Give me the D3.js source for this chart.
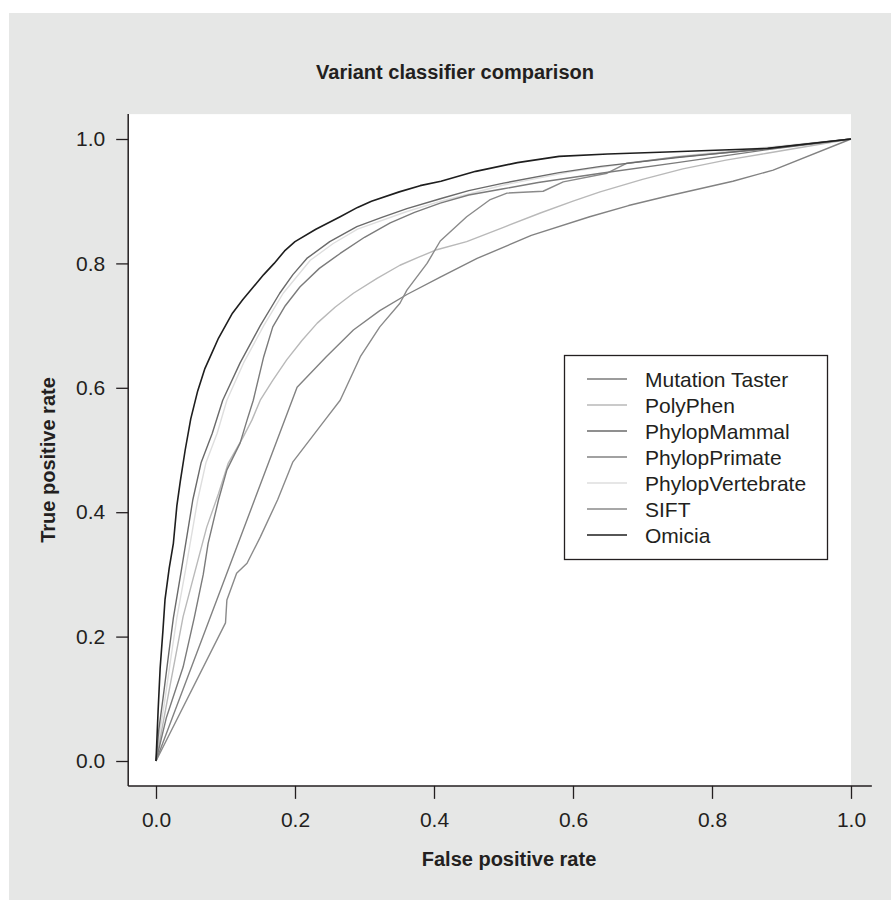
<!DOCTYPE html>
<html>
<head>
<meta charset="utf-8">
<script src="https://cdn.jsdelivr.net/npm/d3@7"></script>
<style>
  body { margin: 0; background: #fff; }
  text { font-family: "Liberation Sans", Arial, Helvetica, sans-serif; fill: #231f20; }
</style>
</head>
<body>
<div id="chart"></div>
<script>
// legend order
var seriesNames = ["Mutation Taster", "PolyPhen", "PhylopMammal", "PhylopPrimate", "PhylopVertebrate", "SIFT", "Omicia"];
var seriesColors = ["#7b7b7b", "#b9b9b9", "#6a6a6a", "#828282", "#dedede", "#8a8a8a", "#1e1e1e"];

var xTicks = [0, 0.2, 0.4, 0.6, 0.8, 1.0];
var yTicks = [0, 0.2, 0.4, 0.6, 0.8, 1.0];

// [false positive rate, true positive rate]
var mutationTaster = [[0,0],[0.015,0.07],[0.039,0.151],[0.055,0.23],[0.068,0.3],[0.075,0.35],[0.09,0.42],[0.102,0.468],
  [0.121,0.511],[0.131,0.548],[0.14,0.58],[0.155,0.65],[0.168,0.698],[0.186,0.732],[0.207,0.762],[0.235,0.792],[0.265,0.816],
  [0.3,0.842],[0.337,0.865],[0.372,0.882],[0.409,0.897],[0.45,0.91],[0.5,0.92],[0.55,0.93],[0.64,0.945],[0.75,0.962],[0.88,0.983],[1,1]];

var polyPhen = [[0,0],[0.02,0.12],[0.039,0.232],[0.055,0.3],[0.073,0.376],[0.09,0.43],[0.104,0.479],[0.125,0.52],
  [0.138,0.548],[0.15,0.58],[0.168,0.612],[0.188,0.645],[0.21,0.676],[0.232,0.704],[0.258,0.73],[0.284,0.752],[0.318,0.776],
  [0.351,0.797],[0.378,0.81],[0.404,0.822],[0.447,0.835],[0.5,0.858],[0.553,0.881],[0.6,0.9],[0.639,0.915],[0.7,0.935],
  [0.758,0.952],[0.82,0.966],[0.879,0.977],[1,1]];

var phylopMammal = [[0,0],[0.004,0.05],[0.01,0.1],[0.018,0.17],[0.025,0.23],[0.037,0.31],[0.053,0.42],[0.065,0.48],
  [0.081,0.527],[0.096,0.58],[0.121,0.64],[0.15,0.7],[0.178,0.752],[0.197,0.782],[0.217,0.808],[0.25,0.835],[0.289,0.859],
  [0.325,0.874],[0.361,0.888],[0.409,0.904],[0.45,0.917],[0.5,0.929],[0.58,0.946],[0.64,0.956],[0.75,0.97],[0.88,0.985],[1,1]];

var phylopPrimate = [[0,0],[0.203,0.601],[0.245,0.65],[0.284,0.693],[0.322,0.724],[0.361,0.75],[0.409,0.778],[0.462,0.808],
  [0.54,0.845],[0.624,0.875],[0.68,0.893],[0.735,0.908],[0.83,0.932],[0.888,0.95],[1,1]];

var phylopVertebrate = [[0,0],[0.006,0.05],[0.013,0.1],[0.022,0.17],[0.03,0.23],[0.043,0.31],[0.06,0.42],[0.072,0.48],
  [0.088,0.527],[0.102,0.58],[0.126,0.64],[0.155,0.7],[0.183,0.752],[0.222,0.805],[0.255,0.832],[0.29,0.855],[0.36,0.883],
  [0.41,0.9],[0.5,0.926],[0.6,0.948],[0.75,0.972],[0.88,0.987],[1,1]];

var sift = [[0,0],[0.1,0.222],[0.102,0.259],[0.116,0.302],[0.131,0.318],[0.15,0.36],[0.175,0.42],[0.197,0.481],[0.243,0.548],
  [0.265,0.58],[0.294,0.65],[0.322,0.698],[0.351,0.736],[0.361,0.757],[0.39,0.8],[0.409,0.836],[0.447,0.875],[0.48,0.902],
  [0.505,0.913],[0.557,0.916],[0.586,0.931],[0.649,0.945],[0.677,0.961],[0.75,0.971],[0.88,0.984],[1,1]];

var omicia = [[0,0],[0.003,0.08],[0.006,0.15],[0.01,0.21],[0.013,0.26],[0.019,0.31],[0.025,0.35],[0.03,0.41],[0.035,0.45],
  [0.042,0.5],[0.05,0.55],[0.06,0.595],[0.07,0.63],[0.08,0.655],[0.09,0.68],[0.1,0.7],[0.11,0.72],[0.125,0.742],[0.14,0.762],
  [0.155,0.782],[0.17,0.8],[0.185,0.82],[0.2,0.835],[0.23,0.855],[0.265,0.875],[0.29,0.89],[0.31,0.9],[0.35,0.915],
  [0.38,0.925],[0.41,0.932],[0.46,0.948],[0.52,0.962],[0.58,0.972],[0.65,0.976],[0.735,0.979],[0.88,0.985],[1,1]];

var seriesData = [mutationTaster, polyPhen, phylopMammal, phylopPrimate, phylopVertebrate, sift, omicia];
// draw order: light ones first so dark ones stay on top
var drawOrder = [4, 1, 3, 5, 0, 2, 6];

var W = 891, H = 900;
var svg = d3.select("#chart").append("svg").attr("width", W).attr("height", H);

svg.append("rect").attr("x", 9).attr("y", 13).attr("width", W - 9).attr("height", H - 13).attr("fill", "#e6e7e6");

var x = d3.scaleLinear().domain([0, 1]).range([156, 851]);
var y = d3.scaleLinear().domain([0, 1]).range([761, 139]);

// white panel
svg.append("rect")
  .attr("x", x(-0.04)).attr("y", y(1.04))
  .attr("width", x(1) - x(-0.04)).attr("height", y(-0.04) - y(1.04))
  .attr("fill", "#fff");

var line = d3.line().x(function(d){ return x(d[0]); }).y(function(d){ return y(d[1]); });

svg.append("g").selectAll("path")
  .data(drawOrder)
  .enter()
  .append("path")
  .attr("d", function(i){ return line(seriesData[i]); })
  .attr("fill", "none")
  .attr("stroke", function(i){ return seriesColors[i]; })
  .attr("stroke-width", function(i){ return i == 6 ? 1.6 : 1.4; })
  .attr("stroke-linejoin", "round");

// axes
var xAxis = d3.axisBottom(x).tickValues(xTicks).tickFormat(d3.format(".1f")).tickSize(13).tickSizeOuter(0);
var gx = svg.append("g").attr("transform", "translate(0," + y(-0.04) + ")").call(xAxis);
gx.select(".domain").attr("d", "M" + x(-0.04) + ",0H" + x(1.03));
var yAxis = d3.axisLeft(y).tickValues(yTicks).tickFormat(d3.format(".1f")).tickSize(12).tickSizeOuter(0);
var gy = svg.append("g").attr("transform", "translate(" + x(-0.04) + ",0)").call(yAxis);
gy.select(".domain").attr("d", "M0," + y(1.04) + "V" + y(-0.04));

svg.selectAll(".domain").attr("stroke", "#231f20").attr("stroke-width", 1.5);
svg.selectAll(".tick line").attr("stroke", "#231f20").attr("stroke-width", 1.3);
svg.selectAll(".tick text").attr("font-size", 21).attr("font-family", null).style("fill", "#231f20");
gx.selectAll(".tick text").attr("y", 26);
gy.selectAll(".tick text").attr("x", -23);

// titles
svg.append("text").attr("x", 455).attr("y", 79).attr("text-anchor", "middle")
  .attr("font-size", 20).attr("font-weight", "bold").text("Variant classifier comparison");
svg.append("text").attr("x", 509).attr("y", 866).attr("text-anchor", "middle")
  .attr("font-size", 20).attr("font-weight", "bold").text("False positive rate");
svg.append("text").attr("transform", "translate(55,460) rotate(-90)").attr("text-anchor", "middle")
  .attr("font-size", 20).attr("font-weight", "bold").text("True positive rate");

// legend
var lg = svg.append("g");
lg.append("rect").attr("x", 564.5).attr("y", 355.5).attr("width", 263).attr("height", 204)
  .attr("fill", "#fff").attr("stroke", "#231f20").attr("stroke-width", 1.3);
var rows = lg.selectAll("g.row").data(seriesNames).enter().append("g")
  .attr("transform", function(d, i){ return "translate(0," + (379 + i * 26) + ")"; });
rows.append("line").attr("x1", 587).attr("x2", 627).attr("y1", 0).attr("y2", 0)
  .attr("stroke", function(d, i){ return seriesColors[i]; }).attr("stroke-width", 1.6);
rows.append("text").attr("x", 645).attr("dy", "0.36em").attr("font-size", 21).text(function(d){ return d; });
</script>
</body>
</html>
